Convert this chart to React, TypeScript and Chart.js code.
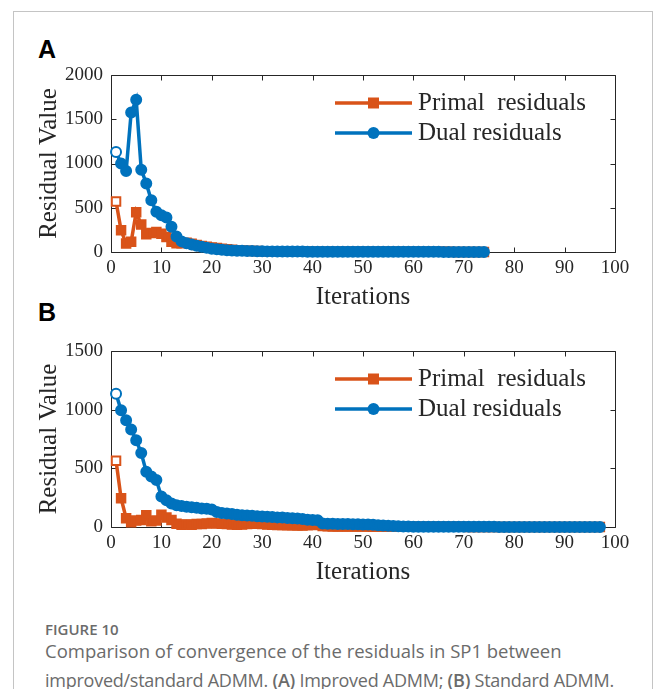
import { useEffect, useRef } from "react";
import { Chart, registerables } from "chart.js";

Chart.register(...registerables);

// ---------------- data ----------------
const iterationsA = Array.from({ length: 74 }, (_, i) => i + 1);
const iterationsB = Array.from({ length: 97 }, (_, i) => i + 1);

const primalA = [
  570, 245, 95, 115, 450, 310, 200, 215, 225, 205,
  170, 115, 100, 100, 105, 92, 80, 68, 58, 52,
  46, 38, 30, 25, 20, 17, 14, 12, 10, 9,
  8, 7, 7, 6, 6, 5, 5, 5, 5, 4,
  4, 4, 4, 4, 3, 3, 3, 3, 3, 3,
  3, 3, 2, 2, 2, 2, 2, 2, 2, 2,
  2, 2, 2, 2, 2, 2, 2, 1, 1, 1,
  1, 1, 1, 1,
];
const dualA = [
  1130, 1000, 915, 1575, 1720, 930, 775, 585, 455, 415,
  390, 285, 175, 120, 100, 85, 70, 58, 47, 38,
  31, 26, 21, 18, 15, 13, 11, 10, 9, 8,
  7, 7, 6, 6, 5, 5, 5, 5, 4, 4,
  4, 4, 4, 3, 3, 3, 3, 3, 3, 3,
  3, 2, 2, 2, 2, 2, 2, 2, 2, 2,
  2, 2, 2, 2, 2, 1, 1, 1, 1, 1,
  1, 1, 1, 1,
];
const primalB = [
  565, 245, 75, 40, 55, 60, 100, 50, 55, 105,
  80, 60, 28, 20, 22, 20, 25, 25, 30, 35,
  30, 28, 25, 22, 20, 22, 25, 28, 30, 25,
  22, 20, 18, 17, 15, 14, 13, 12, 15, 22,
  18, 8, 6, 5, 5, 5, 4, 4, 4, 4,
  4, 3, 3, 3, 3, 3, 3, 2, 2, 2,
  2, 2, 2, 2, 2, 2, 2, 2, 2, 2,
  1, 1, 1, 1, 1, 1, 1, 1, 1, 1,
  1, 1, 1, 1, 1, 1, 1, 1, 1, 1,
  1, 1, 1, 1, 1, 1, 1,
];
const dualB = [
  1135, 995, 910, 830, 740, 630, 470, 430, 400, 260,
  228, 200, 185, 178, 172, 168, 163, 158, 155, 150,
  128, 120, 115, 110, 105, 100, 98, 95, 92, 90,
  88, 85, 82, 80, 77, 75, 72, 68, 62, 60,
  58, 30, 28, 27, 26, 25, 25, 24, 23, 22,
  22, 20, 15, 12, 10, 8, 6, 5, 4, 3,
  3, 3, 3, 2, 2, 2, 2, 2, 2, 2,
  2, 2, 2, 2, 2, 2, 1, 1, 1, 1,
  1, 1, 1, 1, 1, 1, 1, 1, 1, 1,
  1, 1, 1, 1, 1, 1, 1,
];

const xTickRange = [0, 100];
const yMaxA = 2000;
const yMaxB = 1500;
const seriesNames = ["Primal  residuals", "Dual residuals"];

// ---------------- styles ----------------
const SERIF = '"Liberation Serif", "Times New Roman", serif';
const ORANGE = "#D95319";
const BLUE = "#0072BD";
const AXIS = "#262626";

const boxPlugin = {
  id: "matlabBox",
  beforeDatasetsDraw(chart: any) {
    const { ctx, chartArea, scales } = chart;
    const { left, right, top, bottom } = chartArea;
    const xs = scales.x;
    const ys = scales.y;
    ctx.save();
    ctx.strokeStyle = AXIS;
    ctx.lineWidth = 1;
    const L = Math.round(left) + 0.5;
    const R = Math.round(right) + 0.5;
    const T = Math.round(top) + 0.5;
    const B = Math.round(bottom) + 0.5;
    ctx.beginPath();
    ctx.rect(L, T, R - L, B - T);
    const tl = 5;
    xs.ticks.forEach((t: any) => {
      const px = Math.round(xs.getPixelForValue(t.value)) + 0.5;
      ctx.moveTo(px, B);
      ctx.lineTo(px, B - tl);
      ctx.moveTo(px, T);
      ctx.lineTo(px, T + tl);
    });
    ys.ticks.forEach((t: any) => {
      const py = Math.round(ys.getPixelForValue(t.value)) + 0.5;
      ctx.moveTo(L, py);
      ctx.lineTo(L + tl, py);
      ctx.moveTo(R, py);
      ctx.lineTo(R - tl, py);
    });
    ctx.stroke();
    ctx.restore();
  },
};

const legendPlugin = {
  id: "insideLegend",
  afterDraw(chart: any) {
    const { ctx, chartArea } = chart;
    const x0 = chartArea.left + 224;
    const x1 = x0 + 77;
    const mx = (x0 + x1) / 2;
    const entries = [chart.data.datasets[1], chart.data.datasets[0]]; // primal, dual
    ctx.save();
    entries.forEach((ds: any, i: number) => {
      const yy = chartArea.top + 28 + i * 30;
      ctx.strokeStyle = ds.borderColor;
      ctx.lineWidth = 3.5;
      ctx.beginPath();
      ctx.moveTo(x0, yy);
      ctx.lineTo(x1, yy);
      ctx.stroke();
      ctx.fillStyle = ds.borderColor;
      ctx.beginPath();
      if (ds.pointStyle === "rect") {
        ctx.rect(mx - 5.5, yy - 5.5, 11, 11);
      } else {
        ctx.arc(mx, yy, 6, 0, Math.PI * 2);
      }
      ctx.fill();
      ctx.fillStyle = AXIS;
      ctx.font = `25px ${SERIF}`;
      ctx.textAlign = "left";
      ctx.textBaseline = "middle";
      ctx.fillText(ds.label, x1 + 6, yy);
    });
    ctx.restore();
  },
};

function makeConfig(iters: number[], primal: number[], dual: number[], yMax: number): any {
  return {
    type: "line",
    data: {
      datasets: [
        {
          label: seriesNames[1],
          data: iters.map((x, i) => ({ x, y: dual[i] })),
          borderColor: BLUE,
          backgroundColor: BLUE,
          borderWidth: 3.5,
          pointStyle: "circle",
          pointRadius: 5,
          pointBorderWidth: 2,
          pointBackgroundColor: (c: any) => (c.dataIndex === 0 ? "#ffffff" : BLUE),
          pointBorderColor: BLUE,
          clip: false,
          order: 0,
        },
        {
          label: seriesNames[0],
          data: iters.map((x, i) => ({ x, y: primal[i] })),
          borderColor: ORANGE,
          backgroundColor: ORANGE,
          borderWidth: 3.5,
          pointStyle: "rect",
          pointRadius: 6,
          pointBorderWidth: 2,
          pointBackgroundColor: (c: any) => (c.dataIndex === 0 ? "#ffffff" : ORANGE),
          pointBorderColor: ORANGE,
          clip: false,
          order: 1,
        },
      ],
    },
    options: {
      animation: false,
      responsive: false,
      events: [],
      layout: { padding: { left: 34, right: 41, top: 20, bottom: 4 } },
      plugins: { legend: { display: false }, tooltip: { enabled: false } },
      scales: {
        x: {
          type: "linear",
          min: xTickRange[0],
          max: xTickRange[1],
          grid: { display: false, drawTicks: false },
          border: { display: false },
          ticks: {
            stepSize: 10,
            color: AXIS,
            padding: 5,
            maxRotation: 0,
            font: { family: SERIF, size: 19 },
            callback: (v: any) => String(v),
          },
          title: {
            display: true,
            text: "Iterations",
            color: AXIS,
            font: { family: SERIF, size: 25 },
            padding: { top: 0, bottom: 0 },
          },
          afterFit: (s: any) => {
            s.height = 60;
          },
        },
        y: {
          type: "linear",
          min: 0,
          max: yMax,
          grid: { display: false, drawTicks: false },
          border: { display: false },
          ticks: {
            stepSize: 500,
            color: AXIS,
            padding: 8,
            font: { family: SERIF, size: 19 },
            callback: (v: any) => String(v),
          },
          title: {
            display: true,
            text: "Residual Value",
            color: AXIS,
            font: { family: SERIF, size: 25 },
            padding: { top: 0, bottom: 0 },
          },
          afterFit: (s: any) => {
            s.width = 77;
          },
        },
      },
    },
    plugins: [boxPlugin, legendPlugin],
  };
}

function Panel(props: { top: number; height: number; iters: number[]; primal: number[]; dual: number[]; yMax: number }) {
  const ref = useRef<HTMLCanvasElement | null>(null);
  useEffect(() => {
    if (!ref.current) return;
    const chart = new Chart(ref.current, makeConfig(props.iters, props.primal, props.dual, props.yMax));
    return () => chart.destroy();
  }, []);
  return (
    <canvas
      ref={ref}
      width={656}
      height={props.height}
      style={{ position: "absolute", left: 0, top: props.top, width: 656, height: props.height, display: "block" }}
    />
  );
}

export default function App() {
  const sans = '"Open Sans", "Noto Sans", sans-serif';
  return (
    <div style={{ position: "absolute", left: 0, top: 0, width: 656, height: 689, background: "#fff", overflow: "hidden" }}>
      <div
        style={{
          position: "absolute",
          left: 13,
          top: 11,
          width: 640,
          height: 700,
          borderLeft: "1.5px solid #c4c4c4",
          borderTop: "1.5px solid #c4c4c4",
          borderRight: "1.5px solid #c4c4c4",
          boxSizing: "border-box",
        }}
      />
      <div style={{ position: "absolute", left: 38, top: 34, font: `bold 25px "Liberation Sans", Arial, sans-serif`, color: "#000", lineHeight: "30px" }}>A</div>
      <div style={{ position: "absolute", left: 38, top: 297, font: `bold 25px "Liberation Sans", Arial, sans-serif`, color: "#000", lineHeight: "30px" }}>B</div>
      <Panel top={55} height={261} iters={iterationsA} primal={primalA} dual={dualA} yMax={yMaxA} />
      <Panel top={331} height={260} iters={iterationsB} primal={primalB} dual={dualB} yMax={yMaxB} />
      <div style={{ position: "absolute", left: 45, top: 619, fontFamily: sans, fontSize: 15, fontWeight: 600, color: "#6b6b6b", lineHeight: "20px", whiteSpace: "nowrap" }}>
        FIGURE 10
      </div>
      <div style={{ position: "absolute", left: 45, top: 640, fontFamily: sans, fontSize: 18.5, color: "#6b6b6b", lineHeight: "22px", whiteSpace: "nowrap" }}>
        Comparison of convergence of the residuals in SP1 between
      </div>
      <div style={{ position: "absolute", left: 45, top: 669, fontFamily: sans, fontSize: 18, color: "#6b6b6b", lineHeight: "22px", whiteSpace: "nowrap", letterSpacing: "-0.25px" }}>
        improved/standard ADMM. <b style={{ fontWeight: 600 }}>(A)</b> Improved ADMM; <b style={{ fontWeight: 600 }}>(B)</b> Standard ADMM.
      </div>
    </div>
  );
}
